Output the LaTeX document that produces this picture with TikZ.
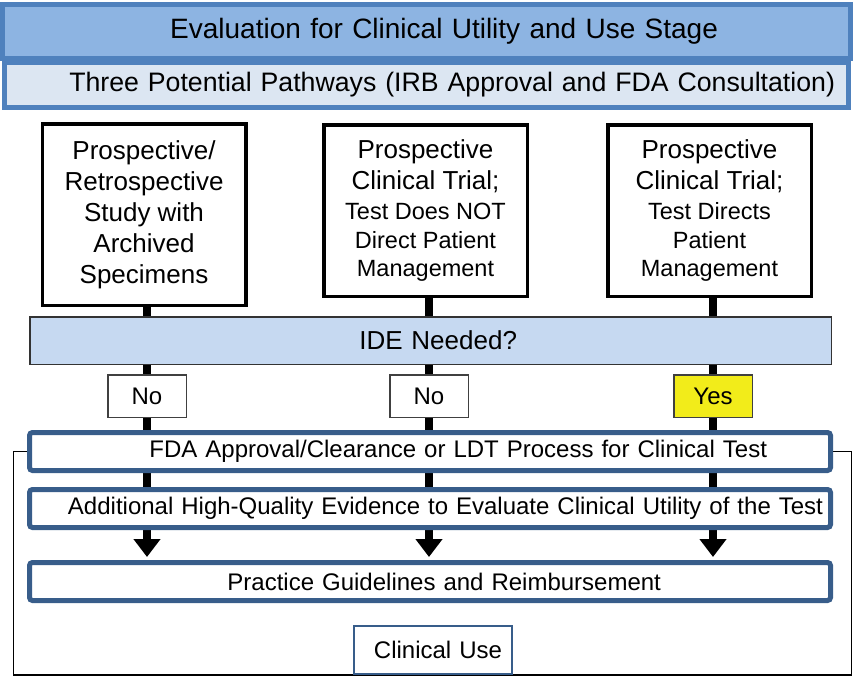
\documentclass[tikz,border=0pt]{standalone}
\usepackage{fontspec}
\setmainfont{Liberation Sans}
\usetikzlibrary{arrows.meta, backgrounds}

\definecolor{titleblue}{HTML}{8DB4E2}
\definecolor{paleblue}{HTML}{DCE6F2}
\definecolor{frameblue}{HTML}{4F81BD}
\definecolor{navyline}{HTML}{385D8A}
\definecolor{idefill}{HTML}{C6D9F1}
\definecolor{yesyellow}{HTML}{F2EC1A}

\newcommand{\fsz}[2]{\fontsize{#1}{#2}\selectfont}

\begin{document}
\begin{tikzpicture}[x=1pt, y=-1pt,
    every node/.style={inner sep=0pt, align=center},
    banner/.style={draw=frameblue, line width=5pt, align=right},
    pathbox/.style={draw=black, line width=3.5pt, fill=white, minimum width=203.5pt, minimum height=171.5pt, font=\fsz{26}{31}},
    answer/.style={draw=black!75, line width=1.5pt, fill=white, minimum width=78.5pt, minimum height=42.5pt, font=\fsz{24}{28}},
    stagebox/.style={draw=navyline, line width=5pt, fill=white, rounded corners=3pt, minimum width=801pt, minimum height=38pt, align=right, font=\fsz{24}{28}},
    stem/.style={line width=8pt},
    loopline/.style={line width=1.6pt}]
    \useasboundingbox (0, 0) rectangle (854, 675);

    % header
    \node[banner, fill=titleblue, minimum width=848pt, minimum height=54pt, text width=583pt, font=\fsz{28}{32}] (stage) at (426.5, 31.5) {Evaluation for Clinical Utility and Use Stage};
    \node[banner, fill=paleblue, minimum width=844pt, minimum height=45pt, text width=817pt, font=\fsz{26.7}{30}] (paths) at (426.5, 85) {Three Potential Pathways (IRB Approval and FDA Consultation)};

    % the three pathways
    \node[pathbox, minimum height=181.5pt] (retro) at (144, 214.5) {Prospective/\\Retrospective\\Study with\\Archived\\Specimens};
    \node[pathbox] (nodirect) at (425.5, 210.5) {Prospective\\Clinical Trial;\\[-1pt]{\fsz{23.5}{28}Test Does NOT}\\[-2pt]{\fsz{23.5}{28}Direct Patient}\\[-3pt]{\fsz{23.5}{28}Management}};
    \node[pathbox] (direct) at (709.5, 210.5) {Prospective\\Clinical Trial;\\[-1pt]{\fsz{23.5}{28}Test Directs}\\[-2pt]{\fsz{23.5}{28}Patient}\\[-3pt]{\fsz{23.5}{28}Management}};

    \node[draw=black!80, line width=1.5pt, fill=idefill, minimum width=801.5pt, minimum height=47.5pt, text width=173pt, align=right, font=\fsz{26}{30}] (ide) at (430.5, 340.5) {IDE Needed?};

    \node[answer] (noA) at (147, 396) {No};
    \node[answer] (noB) at (429, 396) {No};
    \node[answer, fill=yesyellow] (yes) at (713, 396) {Yes};

    % downstream steps
    \node[stagebox, text width=674pt] (fda) at (430, 451.5) {FDA Approval/Clearance or LDT Process for Clinical Test};
    \node[stagebox, text width=786pt] (evidence) at (430, 508.5) {Additional High-Quality Evidence to Evaluate Clinical Utility of the Test};
    \node[stagebox, text width=462pt] (guide) at (430, 581.5) {Practice Guidelines and Reimbursement};
    \node[draw=navyline, line width=2pt, fill=white, minimum width=158pt, minimum height=48pt, text width=138pt, align=right, font=\fsz{24}{28}] (cuse) at (433, 650) {Clinical Use};

    \begin{scope}[on background layer]
        \draw[stem] (retro.south -| noA) -- (noA.north);
        \draw[stem] (nodirect.south -| noB) -- (noB.north);
        \draw[stem] (direct.south -| yes) -- (yes.north);
        \draw[stem, -{Triangle[width=26pt, length=18pt]}, shorten >=3pt] (noA.south) -- (noA |- guide.north);
        \draw[stem, -{Triangle[width=26pt, length=18pt]}, shorten >=3pt] (noB.south) -- (noB |- guide.north);
        \draw[stem, -{Triangle[width=26pt, length=18pt]}, shorten >=3pt] (yes.south) -- (yes |- guide.north);
        % feedback frame
        \draw[loopline] (fda.west) -- ++(-13.5, 0) |- (cuse.south);
        \draw[loopline] (fda.east) -- ++(18.5, 0) |- (cuse.south);
    \end{scope}
\end{tikzpicture}
\end{document}
